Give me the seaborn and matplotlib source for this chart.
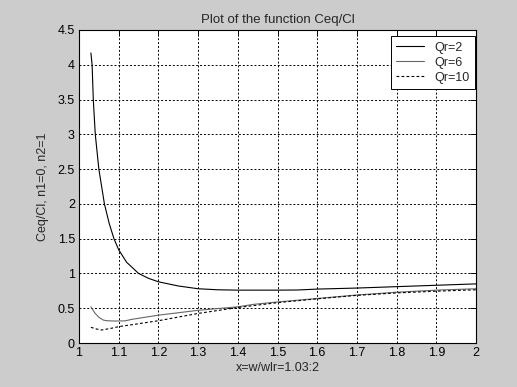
import numpy as np
import pandas as pd
import seaborn as sns
import matplotlib.pyplot as plt

sns.set_theme(style='white')
plt.rcParams['font.family'] = ['Liberation Sans', 'DejaVu Sans']

# curves
x_qr2 = [1.03, 1.033, 1.036, 1.041, 1.050, 1.064, 1.076, 1.088, 1.10, 1.12, 1.137, 1.15,
         1.175, 1.2, 1.25, 1.3, 1.35, 1.4, 1.5, 1.55, 1.6, 1.7, 1.8, 1.9, 2.0]
y_qr2 = [4.17, 4.0, 3.5, 3.0, 2.5, 2.0, 1.72, 1.5, 1.34, 1.16, 1.07, 1.0,
         0.93, 0.88, 0.82, 0.78, 0.765, 0.76, 0.76, 0.762, 0.775, 0.79, 0.81, 0.83, 0.85]

x_qr6 = [1.03, 1.04, 1.05, 1.061, 1.07, 1.09, 1.116, 1.133, 1.2, 1.3, 1.4, 1.44,
         1.5, 1.6, 1.7, 1.8, 1.9, 2.0]
y_qr6 = [0.52, 0.43, 0.37, 0.33, 0.32, 0.316, 0.318, 0.34, 0.40, 0.47, 0.52, 0.556,
         0.59, 0.64, 0.69, 0.73, 0.76, 0.78]

x_qr10 = [1.03, 1.045, 1.057, 1.08, 1.1, 1.2, 1.3, 1.4, 1.5, 1.6, 1.7, 1.8, 1.9, 2.0]
y_qr10 = [0.225, 0.20, 0.187, 0.21, 0.235, 0.32, 0.425, 0.51, 0.58, 0.635, 0.685, 0.72, 0.745, 0.765]

series = [('Qr=2', x_qr2, y_qr2, 'black', '-'),
          ('Qr=6', x_qr6, y_qr6, '#666666', '-'),
          ('Qr=10', x_qr10, y_qr10, 'black', (0, (2.5, 2)))]

fig = plt.figure(figsize=(5.17, 3.87), dpi=100, facecolor='#cccccc')
ax = fig.add_axes([79/517, 1 - 343/387, 397/517, 313/387])
ax.set_facecolor('white')

for name, xs, ys, col, ls in series:
    df = pd.DataFrame({'x': xs, 'y': ys})
    sns.lineplot(data=df, x='x', y='y', ax=ax, color=col, linestyle=ls,
                 linewidth=0.8, label=name, sort=False)

ax.set_xlim(1, 2)
ax.set_ylim(0, 4.5)
ax.set_xticks(np.arange(1, 2.01, 0.1))
ax.set_xticklabels(['1', '1.1', '1.2', '1.3', '1.4', '1.5', '1.6', '1.7', '1.8', '1.9', '2'])
ax.set_yticks(np.arange(0, 4.51, 0.5))
ax.set_yticklabels(['0', '0.5', '1', '1.5', '2', '2.5', '3', '3.5', '4', '4.5'])
ax.grid(True, color='black', linestyle=(0, (2, 2)), linewidth=0.7)
ax.tick_params(direction='in', length=4, width=0.7, top=True, right=True,
               labelsize=9, colors='black', pad=3)
for s in ax.spines.values():
    s.set_color('black')
    s.set_linewidth(0.8)

ax.set_title('Plot of the function Ceq/Cl', fontsize=9.5, pad=5)
ax.set_xlabel('x=w/wlr=1.03:2', fontsize=9, labelpad=2)
ax.set_ylabel('Ceq/Cl, n1=0, n2=1', fontsize=9, labelpad=6)

leg = ax.legend(loc='upper right', bbox_to_anchor=(0.997, 0.981), fontsize=9,
                frameon=True, fancybox=False, edgecolor='black', framealpha=1,
                borderaxespad=0, handlelength=2.2, labelspacing=0.25, borderpad=0.45)
leg.get_frame().set_linewidth(0.7)

plt.savefig('out.png', dpi=100, facecolor=fig.get_facecolor())
